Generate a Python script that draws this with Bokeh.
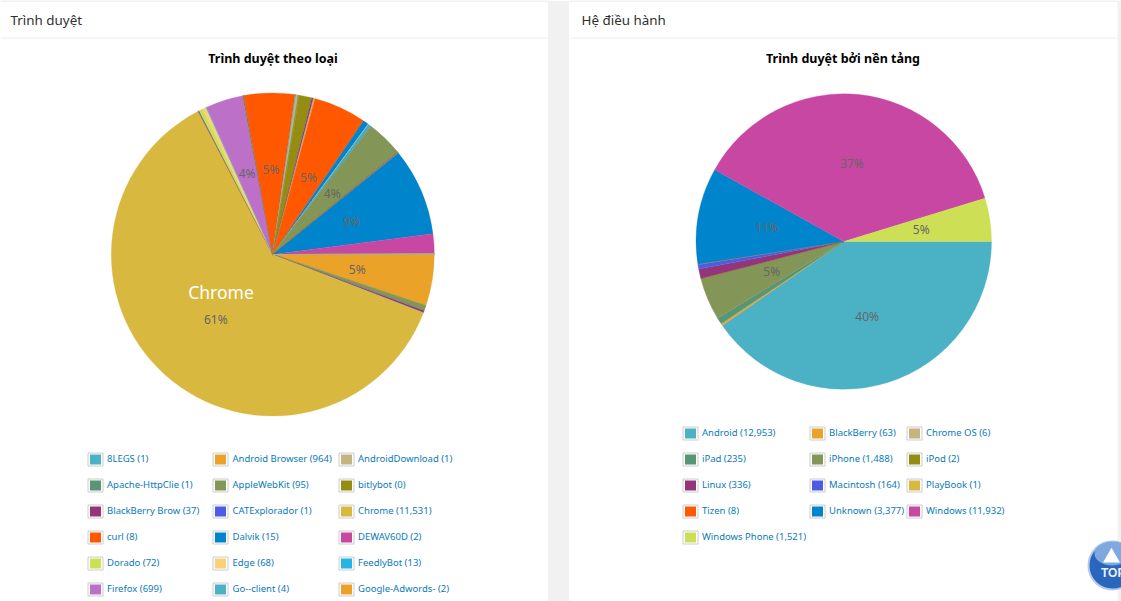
from math import cos, sin, pi
from bokeh.plotting import figure
from bokeh.embed import file_html
from bokeh.resources import INLINE
from bokeh.models import Range1d
from bokeh.core.properties import value

palette = ["#4BB2C5", "#EAA228", "#C5B47F", "#579575", "#839557", "#958C12", "#953579", "#4B5DE4",
           "#D8B83F", "#FF5800", "#0085CC", "#C747A3", "#CDDF54", "#FBD178", "#26B4E3", "#BD70C7"]

browser_names = ["8LEGS", "Android Browser", "AndroidDownload", "Apache-HttpClie", "AppleWebKit", "bitlybot",
                 "BlackBerry Brow", "CATExplorador", "Chrome", "curl", "Dalvik", "DEWAV60D",
                 "Dorado", "Edge", "FeedlyBot", "Firefox", "Go--client", "Google-Adwords-"]
browser_values = [1, 964, 1, 1, 95, 0, 37, 1, 11531, 8, 15, 2, 72, 68, 13, 699, 4, 2]
# slices whose legend rows lie below the visible part of the page
browser_hidden = [1, 2, 2, 2, 4, 2, 2, 950,
                  8, 2, 1, 1, 2, 2, 2, 2, 40, 8, 10, 240,
                  25, 10, 25, 990,
                  104, 4, 3, 3, 50, 2, 2, 2, 2, 2, 680,
                  6, 5, 5, 5, 5, 1645, 370,
                  2, 2, 2, 2, 2, 2, 3]
os_names = ["Android", "BlackBerry", "Chrome OS", "iPad", "iPhone", "iPod", "Linux", "Macintosh",
            "PlayBook", "Tizen", "Unknown", "Windows", "Windows Phone"]
os_values = [12953, 63, 6, 235, 1488, 2, 336, 164, 1, 8, 3377, 11932, 1521]

W, H = 1121, 601
p = figure(width=W, height=H, x_range=Range1d(0, 1121), y_range=Range1d(-601, 0),
           output_backend="svg", toolbar_location=None, min_border=0,
           x_axis_type=None, y_axis_type=None, outline_line_color=None,
           background_fill_color="#ffffff", border_fill_color="#ffffff")
p.grid.visible = False

BODY = "Noto Sans"
LINK = "#0a7ab8"


def rect(x0, y0, x1, y1, fill, line=None, lw=1):
    p.quad(left=[x0], right=[x1], top=[-y0], bottom=[-y1], fill_color=fill,
           line_color=line, line_width=lw)


def txt(x, y, s, size, color, align="left", style="normal", font=BODY):
    p.text(x=[x], y=[-y], text=[s], text_font=value(font), text_font_size=size, text_color=color,
           text_align=align, text_baseline="middle", text_font_style=style)


# page: gutters and panel headers
rect(547.5, 0, 568.5, 601, "#f1f1f1")
rect(1117, 0, 1121, 601, "#f1f1f1")
p.segment([0, 569], [-0.5, -0.5], [547, 1117], [-0.5, -0.5], line_color="#e4e4e4", line_width=1)
p.segment([0, 569], [-37.5, -37.5], [547, 1117], [-37.5, -37.5], line_color="#ececec", line_width=1)
txt(10, 19.7, "Trình duyệt", "13.4px", "#2f2f2f")
txt(581, 19.7, "Hệ điều hành", "13.4px", "#2f2f2f")
txt(272.5, 57.7, "Trình duyệt theo loại", "12.5px", "#000000", "center", "bold")
txt(842.5, 57.7, "Trình duyệt bởi nền tảng", "12.5px", "#000000", "center", "bold")


def pie(values, cx, cy, r, dy):
    total = sum(values)
    cum = 0.0
    xs, ys, starts, ends, cols = [], [], [], [], []
    labels = []
    for i, v in enumerate(values):
        a0 = cum / total * 2 * pi
        cum += v
        a1 = cum / total * 2 * pi
        if v > 0:  # an empty slice would be drawn as a whole circle
            xs.append(cx)
            ys.append(-cy)
            starts.append(-a0)
            ends.append(-a1)
            cols.append(palette[i % 16])
        if v / total * 100 >= 3:
            labels.append(((a0 + a1) / 2, round(v / total * 100)))
    p.wedge(x=xs, y=ys, radius=r, start_angle=starts, end_angle=ends,
            direction="clock", fill_color=cols, line_color=cols, line_width=0.3)
    for mid, pct in labels:
        txt(cx + 0.53 * r * cos(mid), cy + dy + 0.53 * r * sin(mid), f"{pct}%", "12px", "#666666", "center")


pie(browser_values + browser_hidden, 272.3, 254, 161.5, 1)
pie(os_values, 843.3, 241, 147.7, 0)
txt(220.5, 291.5, "Chrome", "17.5px", "#ffffff", "center")


def legend(names, values, sx, tx, y0):
    for i, (n, v) in enumerate(zip(names, values)):
        c = i % 3
        y = y0 + (i // 3) * 26
        rect(sx[c], y - 6.5, sx[c] + 15, y + 6.5, "#ffffff", "#cccccc", 1)
        rect(sx[c] + 2, y - 5, sx[c] + 13, y + 5, palette[i % 16])
        txt(tx[c], y - 0.7, f"{n} ({v:,})", "9.5px", LINK)


legend(browser_names, browser_values, [87.5, 212.5, 338.5], [106.5, 232, 357.5], 459)
legend(os_names, os_values, [682.5, 809.5, 906.5], [701.5, 828.5, 925.5], 433)

# back-to-top button
p.scatter([1112], [-565], size=48, marker="circle", fill_color="#2b66bd", line_color="#b4cbe8", line_width=2)
p.ellipse([1112], [-553], width=36, height=24, fill_color="#7fa8de", line_color=None)
p.scatter([1111], [-557], size=17, marker="triangle", fill_color="#ffffff", line_color=None)
txt(1100.5, 572.5, "TOP", "12px", "#e8f0fa", "left", "bold", "Liberation Sans")

open("out.html", "w").write(file_html(p, INLINE))
